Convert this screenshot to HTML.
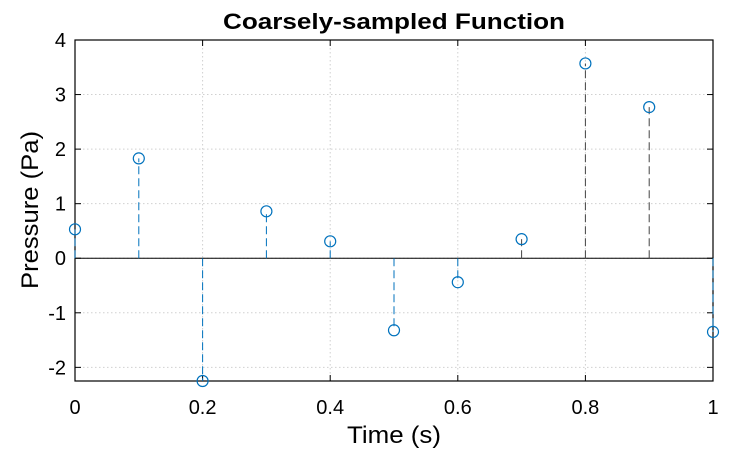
<!DOCTYPE html>
<html><head><meta charset="utf-8"><style>
html,body{margin:0;padding:0;background:#fff;}
svg text{font-family:"Liberation Sans",Arial,sans-serif;}
</style></head><body>
<svg id="chart" width="750" height="450" viewBox="0 0 750 450">
<rect width="750" height="450" fill="#fff"/>
<g id="grid"></g><g id="axes"></g><g id="stems"></g><g id="marks"></g>
<text x="394" y="29" text-anchor="middle" font-size="22" font-weight="bold" textLength="342" lengthAdjust="spacingAndGlyphs">Coarsely-sampled Function</text>
<text x="394" y="443" text-anchor="middle" font-size="24" textLength="94" lengthAdjust="spacingAndGlyphs">Time (s)</text>
<text transform="translate(38,210) rotate(-90)" text-anchor="middle" font-size="24" textLength="158" lengthAdjust="spacingAndGlyphs">Pressure (Pa)</text>
</svg>
<script>
const times=[0,0.1,0.2,0.3,0.4,0.5,0.6,0.7,0.8,0.9,1.0];
const pressures=[0.53,1.83,-2.25,0.86,0.31,-1.32,-0.44,0.35,3.57,2.77,-1.35];
const stemDark=[false,false,false,false,false,false,false,true,true,true,false];
const xTicks=[0,0.2,0.4,0.6,0.8,1];
const xTickLabels=["0","0.2","0.4","0.6","0.8","1"];
const yTicks=[-2,-1,0,1,2,3,4];
const yTickLabels=["-2","-1","0","1","2","3","4"];
const L=75,R=713,T=40,B=381,yMin=-2.25,yMax=4;
const xs=v=>L+(v-0)/(1-0)*(R-L);
const ys=v=>B-(v-yMin)/(yMax-yMin)*(B-T);
const NS="http://www.w3.org/2000/svg";
function mk(tag,attrs,parent){const e=document.createElementNS(NS,tag);for(const k in attrs)e.setAttribute(k,attrs[k]);parent.appendChild(e);return e;}
const grid=document.getElementById('grid'),axes=document.getElementById('axes'),stems=document.getElementById('stems'),marks=document.getElementById('marks');
xTicks.forEach(v=>{const g=mk('line',{x1:xs(v),x2:xs(v),y1:T,y2:B,stroke:'#d0d0d0','stroke-dasharray':'1.5,2.5'},grid);

});
yTicks.forEach(v=>{const g=mk('line',{x1:L,x2:R,y1:ys(v),y2:ys(v),stroke:'#d0d0d0','stroke-dasharray':'1.5,2.5'},grid);

});
const box=mk('rect',{x:L,y:T,width:R-L,height:B-T,fill:'none',stroke:'#000','stroke-width':1.2},axes);


const base=mk('line',{x1:L,x2:R,y1:ys(0),y2:ys(0),stroke:'#000','stroke-width':1},axes);


xTicks.forEach((v,i)=>{mk('line',{x1:xs(v),x2:xs(v),y1:B,y2:B-6,stroke:'#000'},axes);mk('line',{x1:xs(v),x2:xs(v),y1:T,y2:T+6,stroke:'#000'},axes);
const t=mk('text',{x:xs(v),y:B+33,'text-anchor':'middle','font-size':'20'},axes);t.textContent=xTickLabels[i];

});
yTicks.forEach((v,i)=>{mk('line',{x1:L,x2:L+6,y1:ys(v),y2:ys(v),stroke:'#000'},axes);mk('line',{x1:R,x2:R-6,y1:ys(v),y2:ys(v),stroke:'#000'},axes);
const t=mk('text',{x:L-9,y:ys(v)+7,'text-anchor':'end','font-size':'20'},axes);t.textContent=yTickLabels[i];

});
times.forEach((tm,i)=>{const v=pressures[i];const x=xs(tm),y=ys(v);
const s=mk('line',{x1:x,x2:x,y1:ys(0),y2:y,stroke:stemDark[i]?'#444':'#0072BD','stroke-width':1,'stroke-dasharray':'8,4'},stems);


const c=mk('circle',{cx:x,cy:y,r:5.5,fill:'none',stroke:'#0072BD','stroke-width':1.2},marks);

});
</script>
</body></html>
